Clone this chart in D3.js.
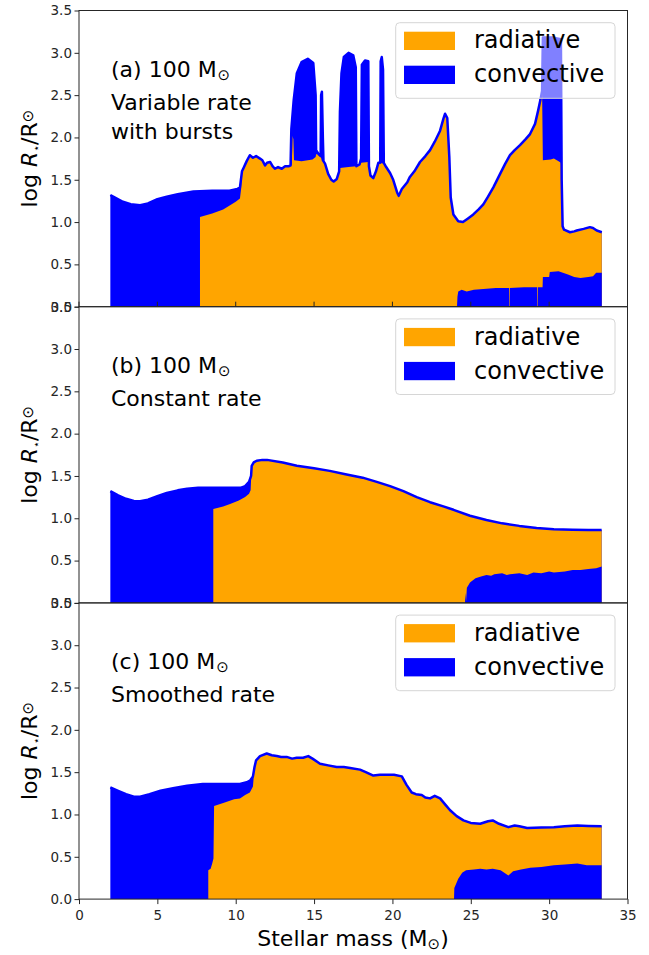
<!DOCTYPE html>
<html>
<head>
<meta charset="utf-8">
<script src="https://cdn.jsdelivr.net/npm/d3@7"></script>
<style>
  body { margin: 0; background: #fff; }
  svg { display: block; font-family: "DejaVu Sans", sans-serif; }
</style>
</head>
<body>
<svg id="chart" width="649" height="955"></svg>
<script>
// --- data: [stellar mass (Msun), log R/Rsun] pairs ---

// (a) variable rate with bursts
const outerA = [
  [2.0, 1.32], [2.3, 1.29], [2.8, 1.24], [3.3, 1.21], [3.9, 1.20], [4.4, 1.22], [5.0, 1.27],
  [5.6, 1.30], [6.3, 1.33], [7.3, 1.36], [8.5, 1.37], [9.6, 1.37], [10.1, 1.39], [10.27, 1.41],
  [10.4, 1.60], [10.5, 1.64], [10.7, 1.72], [10.9, 1.79], [11.1, 1.76], [11.3, 1.78], [11.55, 1.75],
  [11.7, 1.73], [11.87, 1.67], [12.0, 1.70], [12.2, 1.71], [12.35, 1.66], [12.5, 1.63], [12.7, 1.65],
  [12.94, 1.63], [13.15, 1.66], [13.4, 1.66], [13.5, 1.67], [13.55, 2.10], [13.7, 2.44], [13.9, 2.76],
  [14.2, 2.89], [14.6, 2.93], [14.95, 2.88], [15.1, 2.50], [15.13, 1.85], [15.3, 1.80], [15.42, 1.78],
  [15.45, 2.50], [15.5, 2.54], [15.56, 2.00], [15.6, 1.72], [15.7, 1.69], [15.9, 1.57], [16.1, 1.50],
  [16.25, 1.48], [16.45, 1.51], [16.6, 1.60], [16.65, 2.30], [16.75, 2.76], [16.9, 2.95], [17.2, 3.00],
  [17.5, 2.97], [17.66, 2.83], [17.7, 1.66], [17.9, 1.68], [18.0, 1.75], [18.05, 2.86], [18.25, 2.91],
  [18.46, 2.90], [18.5, 1.66], [18.6, 1.55], [18.78, 1.52], [18.95, 1.60], [19.1, 1.70], [19.22, 1.70],
  [19.25, 2.90], [19.32, 2.95], [19.4, 2.80], [19.45, 1.70], [19.6, 1.65], [19.85, 1.58], [20.05, 1.50],
  [20.3, 1.35], [20.4, 1.31], [20.6, 1.39], [20.95, 1.47], [21.1, 1.53], [21.4, 1.60], [21.76, 1.71],
  [22.1, 1.78], [22.4, 1.85], [22.7, 1.95], [23.04, 2.08], [23.25, 2.22], [23.36, 2.28], [23.5, 2.23],
  [23.63, 1.77], [23.72, 1.29], [23.89, 1.09], [24.2, 1.01], [24.5, 1.00], [24.8, 1.04], [25.16, 1.09],
  [25.5, 1.15], [25.8, 1.21], [26.1, 1.30], [26.44, 1.41], [26.87, 1.57], [27.2, 1.69], [27.5, 1.79],
  [27.8, 1.85], [28.14, 1.91], [28.5, 1.98], [28.78, 2.04], [29.1, 2.16], [29.3, 2.32], [29.45, 2.45],
  [29.55, 2.55], [29.6, 3.18], [30.2, 3.18], [30.75, 3.16], [30.8, 1.50], [30.86, 0.95], [30.95, 0.91],
  [31.33, 0.88], [31.6, 0.89], [31.76, 0.90], [32.2, 0.92], [32.6, 0.94], [32.8, 0.93], [33.04, 0.90],
  [33.36, 0.88]
];
const radA = [
  [7.72, 1.06], [8.5, 1.10], [9.2, 1.15], [9.64, 1.20], [10.0, 1.24], [10.27, 1.28], [10.35, 1.40],
  [10.4, 1.60], [10.5, 1.64], [10.7, 1.72], [10.9, 1.79], [11.1, 1.76], [11.3, 1.78], [11.55, 1.75],
  [11.7, 1.73], [11.87, 1.67], [12.0, 1.70], [12.2, 1.71], [12.35, 1.66], [12.5, 1.63], [12.7, 1.65],
  [12.94, 1.63], [13.15, 1.66], [13.4, 1.66], [13.5, 1.67], [13.58, 1.68], [13.62, 2.02], [13.68, 1.98],
  [13.72, 1.73], [14.2, 1.72], [14.6, 1.73], [14.9, 1.74], [15.1, 1.77], [15.13, 1.80], [15.3, 1.80],
  [15.42, 1.78], [15.5, 1.72], [15.6, 1.72], [15.7, 1.69], [15.9, 1.57], [16.1, 1.50], [16.25, 1.48],
  [16.45, 1.51], [16.6, 1.60], [16.65, 1.64], [17.2, 1.65], [17.7, 1.66], [17.9, 1.68], [18.0, 1.70],
  [18.46, 1.71], [18.5, 1.66], [18.6, 1.55], [18.78, 1.52], [18.95, 1.60], [19.1, 1.70], [19.22, 1.70],
  [19.45, 1.69], [19.6, 1.65], [19.85, 1.58], [20.05, 1.50], [20.3, 1.35], [20.4, 1.31], [20.6, 1.39],
  [20.95, 1.47], [21.1, 1.53], [21.4, 1.60], [21.76, 1.71], [22.1, 1.78], [22.4, 1.85], [22.7, 1.95],
  [23.04, 2.08], [23.25, 2.22], [23.36, 2.28], [23.5, 2.23], [23.63, 1.77], [23.72, 1.29], [23.89, 1.09],
  [24.2, 1.01], [24.5, 1.00], [24.8, 1.04], [25.16, 1.09], [25.5, 1.15], [25.8, 1.21], [26.1, 1.30],
  [26.44, 1.41], [26.87, 1.57], [27.2, 1.69], [27.5, 1.79], [27.8, 1.85], [28.14, 1.91], [28.5, 1.98],
  [28.78, 2.04], [29.1, 2.16], [29.3, 2.32], [29.45, 2.45], [29.55, 2.55], [29.6, 1.73], [30.1, 1.74],
  [30.3, 1.75], [30.6, 1.72], [30.75, 1.70], [30.8, 1.50], [30.86, 0.95], [30.95, 0.91], [31.33, 0.88],
  [31.6, 0.89], [31.76, 0.90], [32.2, 0.92], [32.6, 0.94], [32.8, 0.93], [33.04, 0.90], [33.36, 0.88]
];
const coreA = [
  [24.12, 0.0], [24.15, 0.12], [24.2, 0.18], [24.42, 0.20], [24.74, 0.18], [25.2, 0.20], [25.8, 0.21],
  [26.6, 0.22], [27.44, 0.22], [27.45, 0.0], [27.48, 0.0], [27.49, 0.22], [28.4, 0.23], [29.23, 0.23],
  [29.24, 0.0], [29.27, 0.0], [29.28, 0.23], [29.58, 0.23], [29.6, 0.35], [30.0, 0.35], [30.04, 0.41],
  [30.6, 0.42], [31.2, 0.38], [31.6, 0.35], [32.0, 0.34], [32.5, 0.35], [32.8, 0.36], [33.0, 0.40],
  [33.36, 0.40]
];

// (b) constant rate
const outerB = [
  [2.0, 1.32], [2.5, 1.27], [3.0, 1.23], [3.5, 1.205], [3.9, 1.20], [4.4, 1.22], [5.0, 1.26],
  [5.6, 1.30], [6.3, 1.33], [6.9, 1.35], [7.6, 1.36], [8.6, 1.36], [9.6, 1.36], [10.3, 1.36],
  [10.6, 1.38], [10.85, 1.43], [10.98, 1.50], [11.02, 1.62], [11.15, 1.66], [11.34, 1.68], [11.7, 1.69],
  [12.0, 1.69], [13.0, 1.66], [13.9, 1.62], [15.0, 1.59], [16.0, 1.56], [17.0, 1.52], [18.1, 1.48],
  [19.0, 1.43], [19.85, 1.38], [20.7, 1.32], [21.55, 1.25], [22.4, 1.19], [23.25, 1.14], [23.9, 1.10],
  [24.95, 1.03], [26.0, 0.98], [27.0, 0.94], [28.1, 0.91], [29.2, 0.885], [30.3, 0.87], [31.5, 0.865],
  [32.5, 0.86], [33.35, 0.86]
];
const radBLow = [
  [8.57, 1.11], [9.2, 1.14], [9.64, 1.17], [10.2, 1.21], [10.6, 1.25], [10.85, 1.29], [10.95, 1.33],
  [11.02, 1.62]
];
const coreB = [
  [24.63, 0.0], [24.66, 0.12], [24.7, 0.02], [24.75, 0.18], [24.95, 0.24], [25.3, 0.29], [25.6, 0.31],
  [26.0, 0.33], [26.3, 0.32], [26.5, 0.34], [27.0, 0.35], [27.3, 0.33], [27.5, 0.34], [28.1, 0.35],
  [28.6, 0.33], [29.0, 0.36], [29.5, 0.35], [30.0, 0.37], [30.3, 0.36], [31.0, 0.37], [31.5, 0.39],
  [32.0, 0.39], [32.5, 0.40], [33.0, 0.41], [33.35, 0.43]
];

// (c) smoothed rate
const outerC = [
  [2.0, 1.32], [2.5, 1.28], [3.0, 1.24], [3.5, 1.21], [3.9, 1.21], [4.5, 1.24], [5.2, 1.28],
  [6.0, 1.31], [6.9, 1.34], [7.9, 1.36], [9.0, 1.36], [10.27, 1.36], [10.7, 1.38], [10.91, 1.40],
  [11.1, 1.45], [11.2, 1.56], [11.3, 1.64], [11.55, 1.69], [11.98, 1.72], [12.3, 1.70], [12.62, 1.69],
  [12.9, 1.68], [13.25, 1.68], [13.6, 1.66], [13.89, 1.67], [14.3, 1.67], [14.63, 1.69], [14.9, 1.66],
  [15.38, 1.60], [15.9, 1.58], [16.44, 1.56], [16.9, 1.56], [17.3, 1.55], [17.93, 1.53], [18.3, 1.50],
  [18.78, 1.46], [19.2, 1.47], [19.64, 1.47], [20.1, 1.47], [20.6, 1.45], [20.9, 1.35], [21.23, 1.26],
  [21.5, 1.24], [21.87, 1.23], [22.1, 1.20], [22.4, 1.19], [22.7, 1.22], [23.04, 1.19], [23.4, 1.11],
  [23.68, 1.05], [24.1, 0.98], [24.53, 0.93], [25.0, 0.90], [25.6, 0.89], [26.1, 0.92], [26.4, 0.93],
  [26.8, 0.89], [27.4, 0.85], [27.8, 0.87], [28.1, 0.86], [28.6, 0.84], [29.5, 0.845], [30.3, 0.85],
  [31.0, 0.86], [31.8, 0.87], [32.5, 0.865], [33.35, 0.86]
];
const radCLow = [
  [8.25, 0.34], [8.4, 0.36], [8.5, 0.42], [8.58, 0.48], [8.62, 1.10], [9.3, 1.14], [9.9, 1.18],
  [10.27, 1.19], [10.6, 1.23], [10.9, 1.26], [11.1, 1.33], [11.2, 1.56]
];
const coreC = [
  [23.93, 0.0], [23.95, 0.13], [24.2, 0.24], [24.45, 0.31], [24.7, 0.34], [25.2, 0.35], [25.6, 0.36],
  [26.0, 0.35], [26.4, 0.36], [26.9, 0.34], [27.4, 0.28], [27.7, 0.33], [28.2, 0.35], [28.8, 0.37],
  [29.5, 0.38], [30.3, 0.40], [31.0, 0.41], [31.8, 0.42], [32.4, 0.40], [33.35, 0.40]
];

const panelTags = ['(a)', '(b)', '(c)'];
const panelNotes = [['Variable rate', 'with bursts'], ['Constant rate'], ['Smoothed rate']];
const yTicks = [0, 0.5, 1.0, 1.5, 2.0, 2.5, 3.0, 3.5];
const xTicks = [0, 5, 10, 15, 20, 25, 30, 35];
const legendLabels = ['radiative', 'convective'];

(function () {
  'use strict';

  const ORANGE = '#ffa500';
  const BLUE = '#0000ff';
  const INK = '#262626';
  const X0 = 79, X1 = 627.5;       // plot area left/right
  const TOP = 10.5, PH = 296.2;    // first panel top, panel height

  const svg = d3.select('#chart');
  svg.append('rect').attr('width', 649).attr('height', 955).attr('fill', '#fff');

  const x = d3.scaleLinear().domain([0, 35]).range([X0, X1]);

  // radiative zone joins the outer radius once the envelope turns radiative
  const radB = radBLow.concat(outerB.filter(d => d[0] > 11.02));
  const radC = radCLow.concat(outerC.filter(d => d[0] > 11.2));

  const panels = [
    { outer: outerA, rad: radA, core: coreA },
    { outer: outerB, rad: radB, core: coreB },
    { outer: outerC, rad: radC, core: coreC }
  ];

  panels.forEach((p, i) => drawPanel(p, i));

  // small x ticks on the shared edge of panels (a) and (b)
  const edgeY = TOP + PH;
  svg.append('g').selectAll('line').data(xTicks).join('line')
    .attr('x1', d => x(d)).attr('x2', d => x(d))
    .attr('y1', edgeY).attr('y2', edgeY - 5)
    .attr('stroke', INK).attr('stroke-width', 1);

  // bottom x axis
  const bottom = TOP + 3 * PH;
  const xAxis = svg.append('g')
    .attr('transform', 'translate(0,' + bottom + ')')
    .call(d3.axisBottom(x).tickValues(xTicks).tickFormat(d3.format('d')).tickSize(5).tickPadding(6.5));
  styleAxis(xAxis);

  const xl = svg.append('text')
    .attr('x', 353).attr('y', 946)
    .attr('text-anchor', 'middle')
    .attr('font-size', 22).attr('fill', '#000');
  xl.append('tspan').text('Stellar mass (M');
  xl.append('tspan').attr('font-size', 15).attr('dy', 3).text('\u2299');
  xl.append('tspan').attr('dy', -3).text(')');

  function drawPanel(p, i) {
    const top = TOP + i * PH;
    const y = d3.scaleLinear().domain([0, 3.5]).range([top + PH, top]);
    const g = svg.append('g');

    const area = d3.area().x(d => x(d[0])).y0(y(0)).y1(d => y(d[1]));
    const line = d3.line().x(d => x(d[0])).y(d => y(d[1]));

    g.append('path').datum(p.outer).attr('d', area).attr('fill', BLUE);
    g.append('path').datum(p.rad).attr('d', area).attr('fill', ORANGE);
    g.append('path').datum(p.core).attr('d', area).attr('fill', BLUE);
    g.append('path').datum(p.outer).attr('d', line)
      .attr('fill', 'none').attr('stroke', BLUE)
      .attr('stroke-width', 2.5).attr('stroke-linejoin', 'round');

    // annotation
    const note = g.append('text').attr('x', 111).attr('y', top + 66.5)
      .attr('font-size', 22).attr('fill', '#000');
    note.append('tspan').text(panelTags[i] + ' 100 M');
    note.append('tspan').attr('font-size', 15).attr('dy', 3).attr('dx', 1).text('\u2299');
    panelNotes[i].forEach((s, k) => {
      g.append('text').attr('x', 111).attr('y', top + 99 + k * 29.5)
        .attr('font-size', 22).attr('fill', '#000').text(s);
    });

    drawLegend(g, top);

    // frame
    g.append('rect')
      .attr('x', X0).attr('y', top).attr('width', X1 - X0).attr('height', PH)
      .attr('fill', 'none').attr('stroke', INK).attr('stroke-width', 1);

    const yAxis = g.append('g')
      .attr('transform', 'translate(' + X0 + ',0)')
      .call(d3.axisLeft(y).tickValues(yTicks).tickFormat(d3.format('.1f')).tickSize(4.5).tickPadding(2.5));
    styleAxis(yAxis);

    const yl = g.append('text')
      .attr('transform', 'translate(37,' + (top + PH / 2) + ') rotate(-90)')
      .attr('text-anchor', 'middle')
      .attr('font-size', 22).attr('fill', '#000');
    yl.append('tspan').text('log ');
    yl.append('tspan').attr('font-style', 'italic').text('R');
    yl.append('tspan').attr('font-size', 11).attr('dy', 3).text('\u22c6');
    yl.append('tspan').attr('dy', -3).text('/R');
    yl.append('tspan').attr('font-size', 15).attr('dy', -4).text('\u2299');
  }

  function drawLegend(g, top) {
    const lg = g.append('g');
    lg.append('rect')
      .attr('x', 395.7).attr('y', top + 12.2).attr('width', 219.3).attr('height', 75.6)
      .attr('rx', 4)
      .attr('fill', '#fff').attr('fill-opacity', 0.5)
      .attr('stroke', '#d6d6d6').attr('stroke-width', 1);
    const cols = [ORANGE, BLUE];
    legendLabels.forEach((s, k) => {
      lg.append('rect')
        .attr('x', 404).attr('y', top + 21.2 + k * 34).attr('width', 51).attr('height', 18.3)
        .attr('fill', cols[k]);
      lg.append('text')
        .attr('x', 474).attr('y', top + 37.8 + k * 34)
        .attr('font-size', 24).attr('fill', '#000').text(s);
    });
  }

  function styleAxis(sel) {
    sel.select('.domain').remove();
    sel.attr('font-family', '"DejaVu Sans", sans-serif').attr('font-size', 13.5);
    sel.selectAll('line').attr('stroke', INK);
    sel.selectAll('text').attr('fill', INK);
  }
})();
</script>
</body>
</html>
